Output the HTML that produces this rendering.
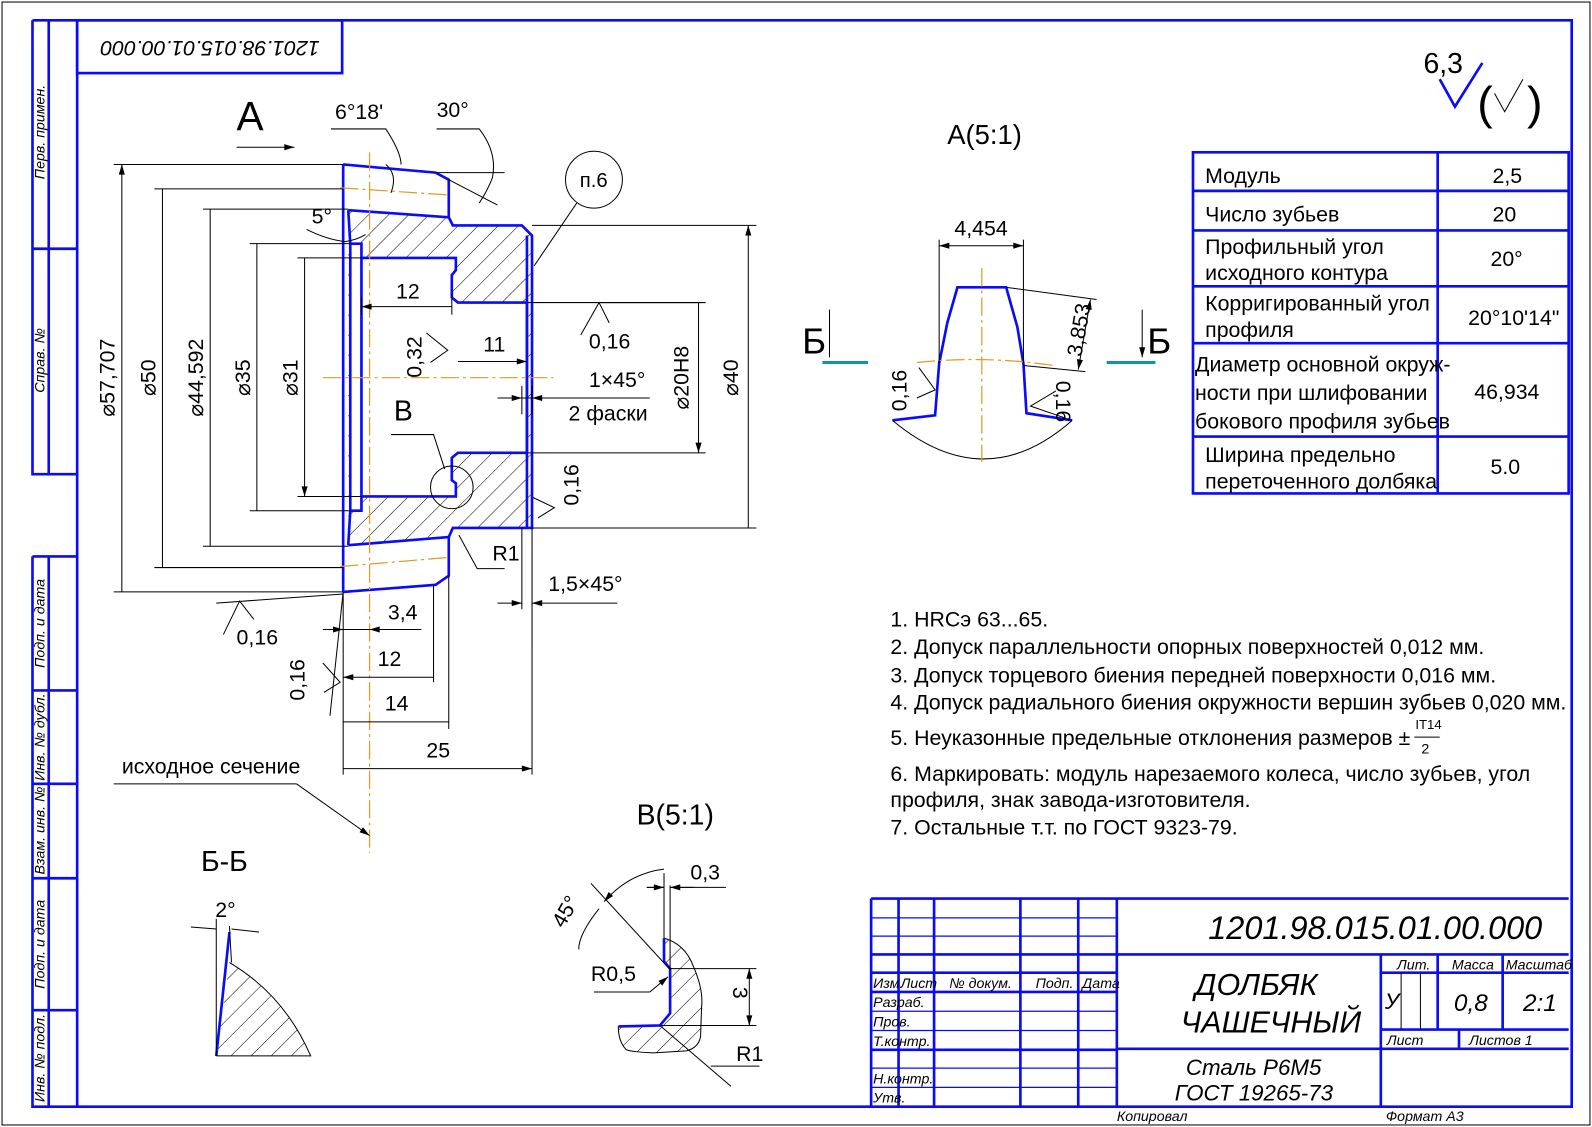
<!DOCTYPE html>
<html><head><meta charset="utf-8"><style>
html,body{margin:0;padding:0;background:#fff}
svg{display:block}
text{font-family:"Liberation Sans","DejaVu Sans",sans-serif;fill:#000}
.b{stroke:#0a0aff;stroke-width:2.6;fill:none}
.k{stroke:#000;stroke-width:1;fill:none}
.o{stroke:#e09a20;stroke-width:1.2;fill:none;stroke-dasharray:18 4 3 4}
.t{font-size:21px}
.s{font-size:14px;font-style:italic}
</style></head><body>
<svg width="1592" height="1127" viewBox="0 0 1568 1110" preserveAspectRatio="none" xmlns="http://www.w3.org/2000/svg">
<defs>
<pattern id="h" patternUnits="userSpaceOnUse" width="14" height="14" patternTransform="rotate(45)">
<line x1="0" y1="0" x2="0" y2="14" stroke="#000" stroke-width="1"/></pattern>
<marker id="a" viewBox="0 0 10 6" refX="10" refY="3" markerWidth="14" markerHeight="6" orient="auto-start-reverse" markerUnits="userSpaceOnUse"><path d="M0,0 L10,3 L0,6 Z" fill="#000"/></marker>
</defs>
<rect x="2" y="2" width="1564" height="1106" fill="none" stroke="#000" stroke-width="1"/>
<!-- frame -->
<rect x="76" y="20" width="1472" height="1070" class="b"/>
<path class="b" d="M32,20 H76 M32,20 V467 H76 M32,245 H76 M32,548 H76 M32,548 V1090 H76 M32,680 H76 M32,772 H76 M32,865 H76 M32,995 H76 M48,20 V467 M48,548 V1090"/>
<rect x="76" y="20" width="261" height="52" class="b"/>
<text class="t" transform="translate(207,46) rotate(180)" text-anchor="middle" dominant-baseline="middle" font-style="italic" font-size="24">1201.98.015.01.00.000</text>
<g class="s" font-size="15">
<text transform="translate(44,130) rotate(-90)" text-anchor="middle">Перв. примен.</text>
<text transform="translate(44,355) rotate(-90)" text-anchor="middle">Справ. №</text>
<text transform="translate(44,614) rotate(-90)" text-anchor="middle">Подп. и дата</text>
<text transform="translate(44,726) rotate(-90)" text-anchor="middle">Инв. № дубл.</text>
<text transform="translate(44,818) rotate(-90)" text-anchor="middle">Взам. инв. №</text>
<text transform="translate(44,930) rotate(-90)" text-anchor="middle">Подп. и дата</text>
<text transform="translate(44,1042) rotate(-90)" text-anchor="middle">Инв. № подл.</text>
</g>
<text x="1100" y="1104" class="s">Копировал</text>
<text x="1365" y="1104" class="s">Формат    А3</text>

<!-- roughness -->
<text x="1402" y="72" font-size="28">6,3</text>
<path class="b" d="M1418,78 L1433,105 L1460,62"/>
<text x="1455" y="117" font-size="46">(</text><text x="1504" y="117" font-size="46">)</text>
<path class="k" stroke-width="1.5" d="M1472,92 L1482,110 L1500,78"/>

<!-- part section -->
<path fill="url(#h)" fill-rule="evenodd" stroke="none" d="M343,207 L442,214 L446,222 L514,222 L524,232 L524,520 L514,520 L446,520 L442,529 L343,537 Z M345,240 L356,240 L356,254 L449,254 L449,266 L445,271 L445,293 L451,298 L519,298 L519,446 L451,446 L445,451 L445,473 L449,476 L449,489 L356,489 L356,503 L345,503 Z"/>
<path class="b" d="M338,162 L338,583 M338,162 L429,170 L442,177 L442,214 L446,222 L514,222 L524,232 L524,520 L514,520 L446,520 L442,529 L442,567 L429,576 L338,583"/>
<path class="b" d="M343,207 L442,214 M343,537 L442,529 M343,207 L345,240 M343,537 L345,503"/>
<path class="b" d="M345,240 L356,240 L356,503 L345,503 Z M356,254 L449,254 L449,266 L445,271 L445,293 L451,298 L519,298 L519,446 L451,446 L445,451 L445,473 L449,476 L449,489 L356,489"/>
<path class="b" stroke-width="1.8" d="M519,232 V520"/>
<!-- center lines -->
<path class="o" d="M364,150 L364,840 M318,372 L545,372"/>
<path class="o" d="M335,185 L442,192 M335,558 L442,549"/>

<!-- left diameter dims -->
<g class="k">
<path d="M112,162 H338 M112,583 H338 M152,186 H338 M152,559 H338 M200,206 H343 M200,538 H343 M246,240 H345 M246,503 H345 M293,254 H356 M293,489 H356"/>
<path marker-start="url(#a)" marker-end="url(#a)" d="M120,162 V583 M160,186 V559 M207,206 V538 M253,240 V503 M300,254 V489"/>
</g>
<g class="t" font-size="22">
<text transform="translate(113,372) rotate(-90)" text-anchor="middle">⌀57,707</text>
<text transform="translate(153,372) rotate(-90)" text-anchor="middle">⌀50</text>
<text transform="translate(200,372) rotate(-90)" text-anchor="middle">⌀44,592</text>
<text transform="translate(246,372) rotate(-90)" text-anchor="middle">⌀35</text>
<text transform="translate(293,372) rotate(-90)" text-anchor="middle">⌀31</text>
<text transform="translate(727,372) rotate(-90)" text-anchor="middle">⌀40</text>
<text transform="translate(678,372) rotate(-90)" text-anchor="middle">⌀20H8</text>
</g>
<g class="k">
<path d="M524,222 H745 M524,520 H745 M519,298 H695 M519,446 H695"/>
<path marker-start="url(#a)" marker-end="url(#a)" d="M737,222 V520 M688,298 V446"/>
<!-- inner horizontal dims -->
<path marker-start="url(#a)" marker-end="url(#a)" d="M356,302 H445 M451,356 H519"/>
<path d="M356,292 V310 M445,290 V310"/>
<path d="M490,392 H640 M492,392 L506,392" />
<path marker-end="url(#a)" d="M490,392 H514"/><path marker-end="url(#a)" d="M545,392 H524"/>
<path d="M514,380 V408 M524,380 V408"/>
</g>
<text x="390" y="294" class="t">12</text>
<text x="476" y="346" class="t">11</text>
<text x="580" y="381" class="t">1×45°</text>
<text x="560" y="414" class="t">2 фаски</text>
<text class="t" transform="translate(415,372) rotate(-90)">0,32</text>
<path class="k" d="M420,328 L441,345 L424,357"/>
<text x="388" y="414" font-size="28">B</text>
<circle cx="445" cy="480" r="21" class="k"/>
<path class="k" d="M385,428 H427 L438,462"/>
<!-- top -->
<text x="233" y="128" font-size="40">A</text>
<path class="k" marker-end="url(#a)" stroke-width="1.5" d="M233,145 H290"/>
<text x="330" y="117" class="t">6°18'</text>
<text x="430" y="115" class="t">30°</text>
<path class="k" d="M326,127 H380 Q395,150 395,162 M380,162 Q392,172 385,190 M430,127 H472 Q490,150 485,175 Q480,188 472,200 M442,177 L490,202 M429,170 H497"/>
<text x="307" y="220" class="t">5°</text>
<path class="k" d="M302,226 Q322,236 340,238 Q352,236 360,231"/>
<!-- n.6 -->
<circle cx="585" cy="177" r="28" class="k"/>
<text x="571" y="184" font-size="20">п.6</text>
<path class="k" d="M568,200 L526,262"/>
<!-- roughness marks -->
<text x="580" y="343" class="t">0,16</text>
<path class="k" d="M572,330 L590,298 L600,318 M590,298 H690"/>
<text class="t" transform="translate(570,498) rotate(-90)">0,16</text>
<path class="k" d="M525,490 L546,500 L530,510"/>
<text x="485" y="552" class="t">R1</text>
<path class="k" d="M497,560 H470 L452,527"/>
<text x="540" y="582" class="t">1,5×45°</text>
<g class="k">
<path d="M514,520 V600 M524,520 V640"/>
<path marker-end="url(#a)" d="M490,594 H514"/><path marker-end="url(#a)" d="M608,594 H524"/>
</g>
<text x="233" y="635" class="t">0,16</text>
<path class="k" d="M220,625 L236,592 L250,610 M213,594 L338,585"/>
<text class="t" transform="translate(300,690) rotate(-90)">0,16</text>
<path class="k" d="M318,653 L335,672 L319,682 M338,583 L325,705"/>
<!-- bottom dims -->
<g class="k">
<path d="M338,583 V763 M427,576 V672 M442,567 V718 M524,520 V763"/>
<path marker-start="url(#a)" d="M338,620 H325"/><path d="M318,620 H415"/><path marker-start="url(#a)" d="M364,620 H378"/>
<path marker-start="url(#a)" marker-end="url(#a)" d="M338,667 H427 M338,711 H442 M338,757 H524"/>
</g>
<text x="382" y="610" class="t">3,4</text>
<text x="372" y="656" class="t">12</text>
<text x="379" y="700" class="t">14</text>
<text x="420" y="746" class="t">25</text>
<text x="120" y="762" class="t">исходное сечение</text>
<path class="k" d="M112,772 H292"/>
<path class="k" marker-end="url(#a)" d="M292,772 L364,823"/>

<!-- A(5:1) -->
<text x="933" y="142" font-size="27">A(5:1)</text>
<path class="b" d="M879,414 L921,409 L925,358 L933,318 L943,283 L991,283 L1002,322 L1008,358 L1011,407 L1056,414"/>
<path class="k" d="M879,414 Q970,490 1056,414"/>
<path class="o" d="M967,264 V455 M903,357 Q970,350 1038,360"/>
<path class="k" d="M925,236 V358 M1008,236 V358"/>
<path class="k" marker-start="url(#a)" marker-end="url(#a)" d="M925,242 H1008"/>
<text x="940" y="232" class="t">4,454</text>
<path class="k" d="M991,283 L1080,295 M1008,360 L1069,366"/>
<path class="k" marker-start="url(#a)" marker-end="url(#a)" d="M1074,295 L1062,364"/>
<text class="t" transform="translate(1065,352) rotate(-80)">3,853</text>
<text class="t" transform="translate(893,405) rotate(-90)">0,16</text>
<path class="k" d="M905,362 L921,384 L903,392"/>
<text class="t" transform="translate(1040,375) rotate(90)">0,16</text>
<path class="k" d="M1040,385 L1015,400 L1050,412"/>
<path stroke="#0a9a9a" stroke-width="3" d="M810,357 H855 M1090,357 H1138"/>
<text x="790" y="348" font-size="36">Б</text>
<text x="1130" y="348" font-size="36">Б</text>
<path class="k" marker-end="url(#a)" stroke-width="1.5" d="M817,305 V352 M1125,305 V352"/>

<!-- table -->
<g class="b">
<rect x="1175" y="150" width="370" height="336"/>
<path d="M1175,188 H1545 M1175,227 H1545 M1175,282 H1545 M1175,338 H1545 M1175,430 H1545 M1416,150 V486"/>
</g>
<g class="t" font-size="22">
<text x="1187" y="180">Модуль</text><text x="1470" y="180">2,5</text>
<text x="1187" y="218">Число зубьев</text><text x="1470" y="218">20</text>
<text x="1187" y="250">Профильный угол</text><text x="1187" y="276">исходного контура</text><text x="1468" y="262">20°</text>
<text x="1187" y="306">Корригированный угол</text><text x="1187" y="332">профиля</text><text x="1446" y="320">20°10'14"</text>
<text x="1177" y="366">Диаметр основной окруж-</text><text x="1177" y="394">ности при шлифовании</text><text x="1177" y="422">бокового профиля зубьев</text>
<text x="1452" y="393">46,934</text>
<text x="1187" y="455">Ширина предельно</text><text x="1187" y="481">переточенного долбяка</text><text x="1468" y="467">5.0</text>
</g>

<!-- notes -->
<g class="t">
<text x="877" y="617">1. HRCэ 63...65.</text>
<text x="877" y="644">2. Допуск параллельности опорных поверхностей 0,012 мм.</text>
<text x="877" y="672">3. Допуск торцевого биения передней поверхности 0,016 мм.</text>
<text x="877" y="699">4. Допуск радиального биения окружности вершин зубьев 0,020 мм.</text>
<text x="877" y="734">5. Неуказонные предельные отклонения размеров ±</text>
<text x="1394" y="718" font-size="13">IT14</text><text x="1400" y="742" font-size="14">2</text><path class="k" d="M1393,726 H1418"/>
<text x="877" y="769">6. Маркировать: модуль нарезаемого колеса, число зубьев, угол</text>
<text x="877" y="795">профиля, знак завода-изготовителя.</text>
<text x="877" y="822">7. Остальные т.т. по ГОСТ 9323-79.</text>
</g>

<!-- Б-Б -->
<text x="198" y="858" font-size="28">Б-Б</text>
<path fill="url(#h)" stroke="none" d="M213,1040 L226,948 Q280,980 306,1040 Z"/>
<path class="b" d="M213,1040 L226,918"/>
<path class="k" d="M226,948 Q280,980 306,1040 H213 M213,905 V1040 M226,912 L228,948"/>
<path class="k" d="M188,913 L213,915 M255,918 L228,915"/>
<text x="212" y="903" class="t">2°</text>

<!-- B(5:1) -->
<text x="627" y="812" font-size="28">B(5:1)</text>
<path fill="url(#h)" stroke="none" d="M654,924 Q675,930 683,952 Q693,975 691,992 L690,1021 Q688,1032 676,1035 L644,1037 Q618,1036 616,1033 Q609,1025 609,1011 L650,1010 L660,998 L660,954 L654,948 Z"/>
<path class="k" d="M654,924 Q675,930 683,952 Q693,975 691,992 L690,1021 Q688,1032 676,1035 L644,1037 Q618,1036 616,1033 Q609,1025 609,1011"/>
<path class="b" d="M654,924 L654,947 L660,954 L660,998 L650,1010 L609,1011"/>
<path class="k" d="M654,860 V924 M660,872 V954 M660,954 H745 M650,1010 H745 M582,870 L660,955 M650,1010 L720,1070"/>
<path class="k" d="M637,874 H654 M668,874 H715"/>
<path class="k" marker-end="url(#a)" d="M637,874 H654"/><path class="k" marker-end="url(#a)" d="M683,874 H660"/>
<text x="680" y="866" class="t">0,3</text>
<path class="k" marker-start="url(#a)" marker-end="url(#a)" d="M738,954 V1010"/>
<text class="t" transform="translate(722,972) rotate(90)">3</text>
<path class="k" marker-start="url(#a)" d="M595,888 Q620,860 654,856"/>
<path class="k" d="M590,895 Q570,920 570,935"/>
<text class="t" transform="translate(555,915) rotate(-60)">45°</text>
<text x="582" y="966" class="t">R0,5</text>
<path class="k" d="M585,977 H640"/><path class="k" marker-end="url(#a)" d="M640,977 L658,962"/>
<text x="725" y="1045" class="t">R1</text>
<path class="k" d="M700,1050 H748"/>

<!-- title block -->
<g class="b">
<path d="M858,885 H1545 M858,885 V1090 M885,885 V1090 M920,885 V1090 M1005,885 V1090 M1062,885 V1090 M1100,885 V1090"/>
<path stroke-width="1.2" d="M858,904 H1100 M858,922 H1100 M858,996 H1100 M858,1015 H1100 M858,1052 H1100 M858,1071 H1100"/>
<path d="M858,940 H1100 M858,958 H1100 M858,977 H1100 M858,1034 H1100"/>
<path d="M1100,940 H1545 M1100,1033 H1545 M1360,940 V1090 M1360,958 H1545 M1360,1014 H1545 M1416,940 V1014 M1480,940 V1014 M1437,1014 V1033"/>
</g>
<path class="k" d="M1380,958 V1014 M1399,958 V1014"/>
<g class="s">
<text x="860" y="973">Изм.</text><text x="887" y="973">Лист</text><text x="935" y="973">№ докум.</text><text x="1020" y="973">Подп.</text><text x="1066" y="973">Дата</text>
<text x="860" y="992">Разраб.</text><text x="860" y="1011">Пров.</text><text x="860" y="1030">Т.контр.</text>
<text x="860" y="1067">Н.контр.</text><text x="860" y="1086">Утв.</text>
<text x="1376" y="955">Лит.</text><text x="1430" y="955">Масса</text><text x="1483" y="955">Масштаб</text>
<text x="1366" y="1029">Лист</text><text x="1447" y="1029">Листов   1</text>
</g>
<text x="1190" y="925" font-size="32" font-style="italic">1201.98.015.01.00.000</text>
<text x="1177" y="980" font-size="30" font-style="italic">ДОЛБЯК</text>
<text x="1163" y="1017" font-size="30" font-style="italic">ЧАШЕЧНЫЙ</text>
<text x="1168" y="1059" font-size="22" font-style="italic">Сталь Р6М5</text>
<text x="1157" y="1084" font-size="22" font-style="italic">ГОСТ 19265-73</text>
<text x="1364" y="994" font-size="22" font-style="italic">У</text>
<text x="1432" y="996" font-size="24" font-style="italic">0,8</text>
<text x="1500" y="996" font-size="24" font-style="italic">2:1</text>
</svg>
</body></html>
